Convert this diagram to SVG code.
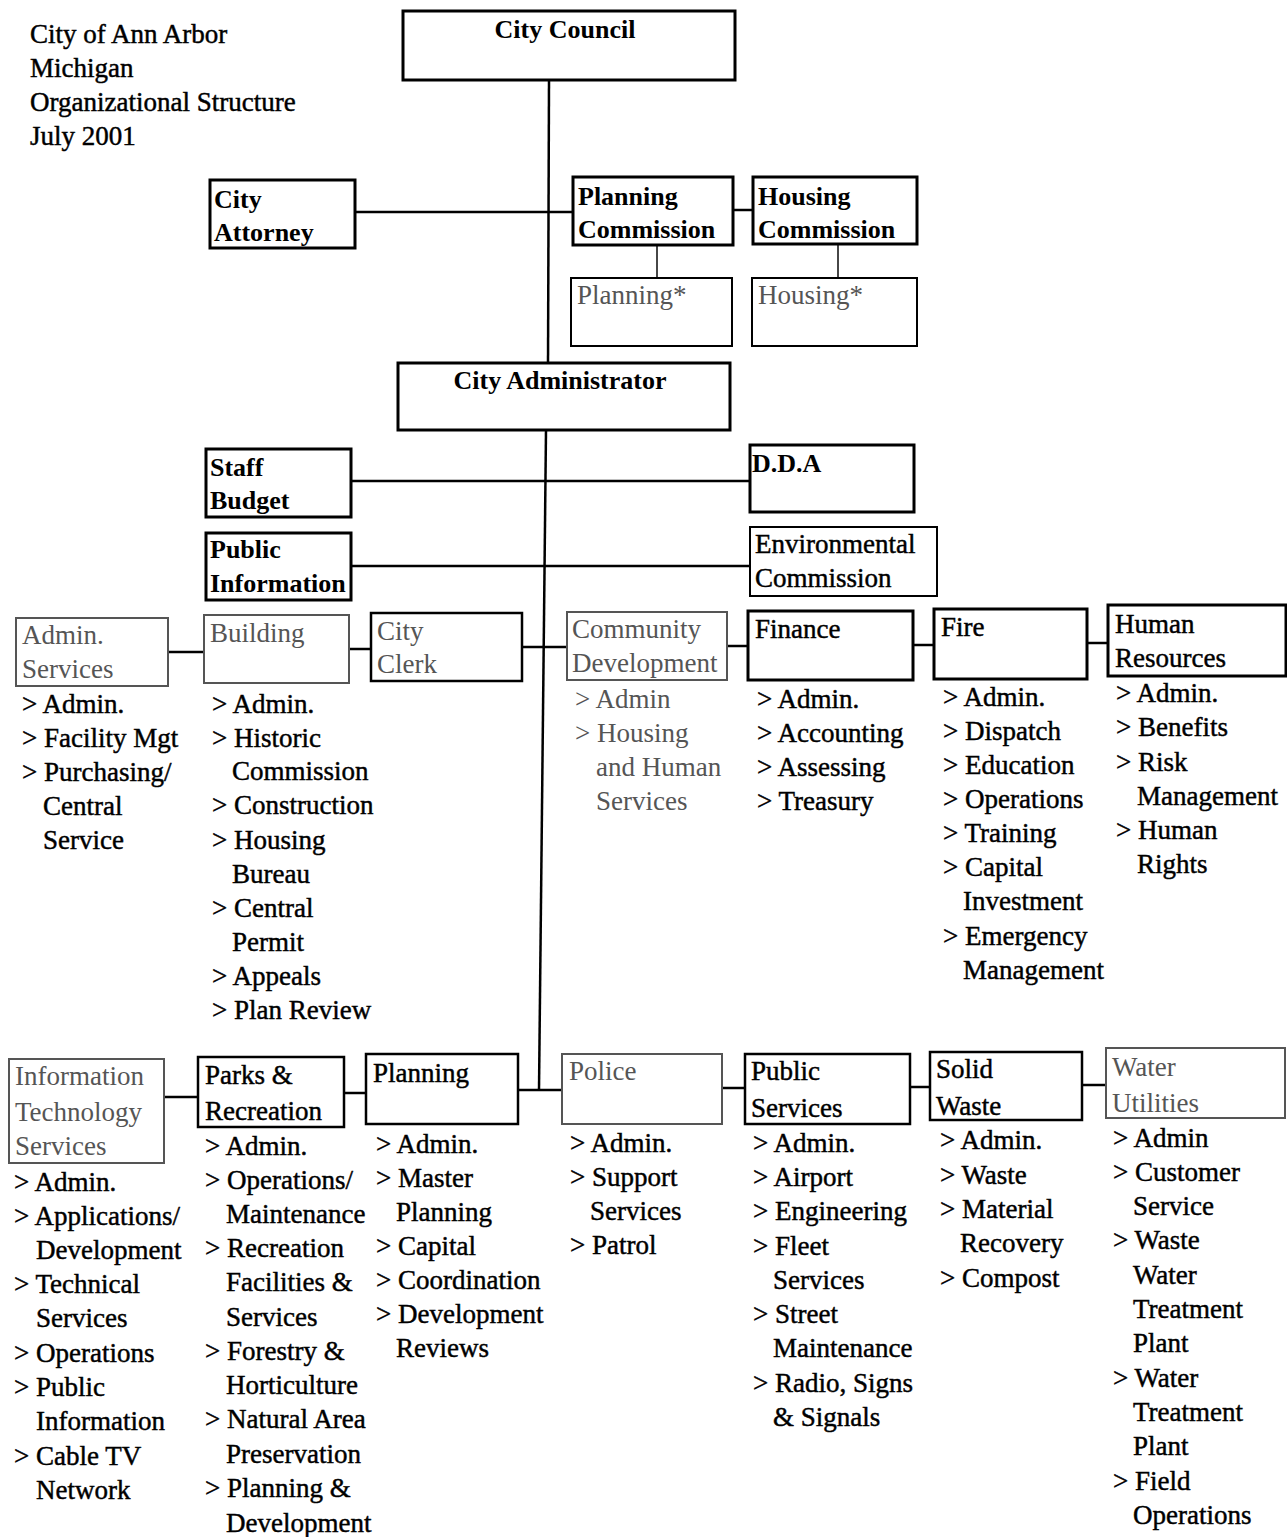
<svg xmlns="http://www.w3.org/2000/svg" width="1287" height="1537" viewBox="0 0 1287 1537">
<style>
text{font-family:"Liberation Serif","Times New Roman",serif;font-size:27px;fill:#000;stroke:#000;stroke-width:0.45}
.g{fill:#555;stroke:none}
.b{font-weight:bold;font-size:26px;stroke:none}
.bx{fill:#fff;stroke:#000;stroke-width:3}
.gx{fill:#fff;stroke:#555;stroke-width:2}
.ln{stroke:#000;stroke-width:2.5;fill:none}
.lt{stroke:#333;stroke-width:1.8;fill:none}
</style>
<rect width="1287" height="1537" fill="#fff"/>
<g id="title">
<text x="30" y="43">City of Ann Arbor</text>
<text x="30" y="77">Michigan</text>
<text x="30" y="111">Organizational Structure</text>
<text x="30" y="145">July 2001</text>
</g>
<g id="connectors">
<line class="ln" x1="549" y1="80" x2="548" y2="365"/>
<line class="ln" x1="355" y1="212" x2="573" y2="212"/>
<line class="ln" x1="733" y1="210" x2="753" y2="210"/>
<line class="lt" x1="657" y1="245" x2="657" y2="278"/>
<line class="lt" x1="838" y1="244" x2="838" y2="278"/>
<line class="ln" x1="546" y1="430" x2="539" y2="1090"/>
<line class="ln" x1="351" y1="481" x2="750" y2="481"/>
<line class="ln" x1="351" y1="566" x2="750" y2="566"/>
<line class="ln" x1="168" y1="652" x2="204" y2="652"/>
<line class="ln" x1="349" y1="649" x2="371" y2="649"/>
<line class="ln" x1="522" y1="647" x2="567" y2="647"/>
<line class="ln" x1="727" y1="646" x2="748" y2="646"/>
<line class="ln" x1="913" y1="645" x2="934" y2="645"/>
<line class="ln" x1="1087" y1="643" x2="1108" y2="643"/>
<line class="ln" x1="164" y1="1097" x2="198" y2="1097"/>
<line class="ln" x1="344" y1="1093" x2="366" y2="1093"/>
<line class="ln" x1="518" y1="1090" x2="562" y2="1090"/>
<line class="ln" x1="722" y1="1088" x2="745" y2="1088"/>
<line class="ln" x1="910" y1="1087" x2="930" y2="1087"/>
<line class="ln" x1="1082" y1="1085" x2="1106" y2="1085"/>
</g>
<g id="city-council"><rect class="bx" x="403" y="11" width="332" height="69"/><text x="565" y="38" text-anchor="middle" class="b">City Council</text></g>
<g id="city-attorney"><rect class="bx" x="210" y="180" width="145" height="68"/><text x="214" y="208" class="b">City</text><text x="214" y="241" class="b">Attorney</text></g>
<g id="planning-commission"><rect class="bx" x="573" y="177" width="160" height="68"/><text x="578" y="205" class="b">Planning</text><text x="578" y="238" class="b">Commission</text></g>
<g id="housing-commission"><rect class="bx" x="753" y="177" width="164" height="67"/><text x="758" y="205" class="b">Housing</text><text x="758" y="238" class="b">Commission</text></g>
<g id="planning-star"><rect class="bx" x="571" y="278" width="161" height="68" style="stroke-width:2"/><text x="577" y="304" class="g">Planning*</text></g>
<g id="housing-star"><rect class="bx" x="752" y="278" width="165" height="68" style="stroke-width:2"/><text x="758" y="304" class="g">Housing*</text></g>
<g id="city-administrator"><rect class="bx" x="398" y="363" width="332" height="67"/><text x="560" y="389" text-anchor="middle" class="b">City Administrator</text></g>
<g id="staff-budget"><rect class="bx" x="206" y="449" width="145" height="68"/><text x="210" y="476" class="b">Staff</text><text x="210" y="509" class="b">Budget</text></g>
<g id="dda"><rect class="bx" x="750" y="445" width="164" height="67"/><text x="752" y="472" class="b">D.D.A</text></g>
<g id="public-information"><rect class="bx" x="206" y="533" width="145" height="67"/><text x="210" y="558" class="b">Public</text><text x="210" y="592" class="b">Information</text></g>
<g id="environmental-commission"><rect class="bx" x="750" y="527" width="187" height="69" style="stroke-width:2"/><text x="755" y="553">Environmental</text><text x="755" y="587">Commission</text></g>

<g id="admin-services"><rect class="gx" x="16" y="618" width="152" height="68"/><text x="22" y="644" class="g">Admin.</text><text x="22" y="678" class="g">Services</text>
<text x="22" y="713">&gt; Admin.</text><text x="22" y="747">&gt; Facility Mgt</text><text x="22" y="781">&gt; Purchasing/</text><text x="43" y="815">Central</text><text x="43" y="849">Service</text></g>
<g id="building"><rect class="gx" x="204" y="615" width="145" height="68"/><text x="210" y="642" class="g">Building</text>
<text x="212" y="713">&gt; Admin.</text><text x="212" y="747">&gt; Historic</text><text x="232" y="780">Commission</text><text x="212" y="814">&gt; Construction</text><text x="212" y="849">&gt; Housing</text><text x="232" y="883">Bureau</text><text x="212" y="917">&gt; Central</text><text x="232" y="951">Permit</text><text x="212" y="985">&gt; Appeals</text><text x="212" y="1019">&gt; Plan Review</text></g>
<g id="city-clerk"><rect class="bx" x="371" y="613" width="151" height="68" style="stroke-width:2.5"/><text x="377" y="640" class="g">City</text><text x="377" y="673" class="g">Clerk</text></g>
<g id="community-development"><rect class="gx" x="567" y="612" width="160" height="68"/><text x="572" y="638" class="g">Community</text><text x="572" y="672" class="g">Development</text>
<text x="575" y="708" class="g">&gt; Admin</text><text x="575" y="742" class="g">&gt; Housing</text><text x="596" y="776" class="g">and Human</text><text x="596" y="810" class="g">Services</text></g>
<g id="finance"><rect class="bx" x="748" y="611" width="165" height="69"/><text x="755" y="638">Finance</text>
<text x="757" y="708">&gt; Admin.</text><text x="757" y="742">&gt; Accounting</text><text x="757" y="776">&gt; Assessing</text><text x="757" y="810">&gt; Treasury</text></g>
<g id="fire"><rect class="bx" x="934" y="609" width="153" height="70"/><text x="941" y="636">Fire</text>
<text x="943" y="706">&gt; Admin.</text><text x="943" y="740">&gt; Dispatch</text><text x="943" y="774">&gt; Education</text><text x="943" y="808">&gt; Operations</text><text x="943" y="842">&gt; Training</text><text x="943" y="876">&gt; Capital</text><text x="963" y="910">Investment</text><text x="943" y="945">&gt; Emergency</text><text x="963" y="979">Management</text></g>
<g id="human-resources"><rect class="bx" x="1108" y="605" width="178" height="71"/><text x="1115" y="633">Human</text><text x="1115" y="667">Resources</text>
<text x="1116" y="702">&gt; Admin.</text><text x="1116" y="736">&gt; Benefits</text><text x="1116" y="771">&gt; Risk</text><text x="1137" y="805">Management</text><text x="1116" y="839">&gt; Human</text><text x="1137" y="873">Rights</text></g>

<g id="information-technology"><rect class="gx" x="9" y="1059" width="155" height="104"/><text x="15" y="1085" class="g">Information</text><text x="15" y="1121" class="g">Technology</text><text x="15" y="1155" class="g">Services</text>
<text x="14" y="1191">&gt; Admin.</text><text x="14" y="1225">&gt; Applications/</text><text x="36" y="1259">Development</text><text x="14" y="1293">&gt; Technical</text><text x="36" y="1327">Services</text><text x="14" y="1362">&gt; Operations</text><text x="14" y="1396">&gt; Public</text><text x="36" y="1430">Information</text><text x="14" y="1465">&gt; Cable TV</text><text x="36" y="1499">Network</text></g>
<g id="parks-recreation"><rect class="bx" x="198" y="1057" width="146" height="70" style="stroke-width:2.5"/><text x="205" y="1084">Parks &amp;</text><text x="205" y="1120">Recreation</text>
<text x="205" y="1155">&gt; Admin.</text><text x="205" y="1189">&gt; Operations/</text><text x="226" y="1223">Maintenance</text><text x="205" y="1257">&gt; Recreation</text><text x="226" y="1291">Facilities &amp;</text><text x="226" y="1326">Services</text><text x="205" y="1360">&gt; Forestry &amp;</text><text x="226" y="1394">Horticulture</text><text x="205" y="1428">&gt; Natural Area</text><text x="226" y="1463">Preservation</text><text x="205" y="1497">&gt; Planning &amp;</text><text x="226" y="1532">Development</text></g>
<g id="planning"><rect class="bx" x="366" y="1054" width="152" height="70" style="stroke-width:2.5"/><text x="373" y="1082">Planning</text>
<text x="376" y="1153">&gt; Admin.</text><text x="376" y="1187">&gt; Master</text><text x="396" y="1221">Planning</text><text x="376" y="1255">&gt; Capital</text><text x="376" y="1289">&gt; Coordination</text><text x="376" y="1323">&gt; Development</text><text x="396" y="1357">Reviews</text></g>
<g id="police"><rect class="gx" x="562" y="1054" width="160" height="70"/><text x="569" y="1080" class="g">Police</text>
<text x="570" y="1152">&gt; Admin.</text><text x="570" y="1186">&gt; Support</text><text x="590" y="1220">Services</text><text x="570" y="1254">&gt; Patrol</text></g>
<g id="public-services"><rect class="bx" x="745" y="1054" width="165" height="70" style="stroke-width:2.5"/><text x="751" y="1080">Public</text><text x="751" y="1117">Services</text>
<text x="753" y="1152">&gt; Admin.</text><text x="753" y="1186">&gt; Airport</text><text x="753" y="1220">&gt; Engineering</text><text x="753" y="1255">&gt; Fleet</text><text x="773" y="1289">Services</text><text x="753" y="1323">&gt; Street</text><text x="773" y="1357">Maintenance</text><text x="753" y="1392">&gt; Radio, Signs</text><text x="773" y="1426">&amp; Signals</text></g>
<g id="solid-waste"><rect class="bx" x="930" y="1052" width="152" height="68" style="stroke-width:2.5"/><text x="936" y="1078">Solid</text><text x="936" y="1115">Waste</text>
<text x="940" y="1149">&gt; Admin.</text><text x="940" y="1184">&gt; Waste</text><text x="940" y="1218">&gt; Material</text><text x="960" y="1252">Recovery</text><text x="940" y="1287">&gt; Compost</text></g>
<g id="water-utilities"><rect class="gx" x="1106" y="1048" width="179" height="70"/><text x="1112" y="1076" class="g">Water</text><text x="1112" y="1112" class="g">Utilities</text>
<text x="1113" y="1147">&gt; Admin</text><text x="1113" y="1181">&gt; Customer</text><text x="1133" y="1215">Service</text><text x="1113" y="1249">&gt; Waste</text><text x="1133" y="1284">Water</text><text x="1133" y="1318">Treatment</text><text x="1133" y="1352">Plant</text><text x="1113" y="1387">&gt; Water</text><text x="1133" y="1421">Treatment</text><text x="1133" y="1455">Plant</text><text x="1113" y="1490">&gt; Field</text><text x="1133" y="1524">Operations</text></g>
</svg>
